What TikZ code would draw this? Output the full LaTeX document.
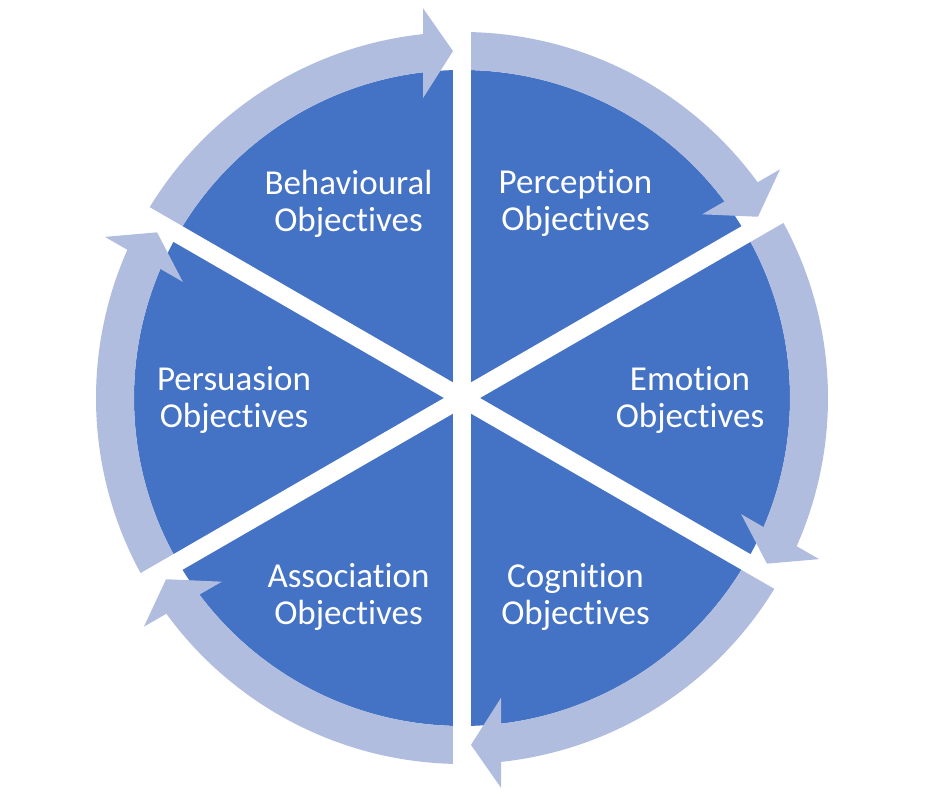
\documentclass[tikz,border=0pt]{standalone}
\usepackage{fontspec}
\setmainfont{Carlito}[Ligatures={NoCommon}]
\definecolor{segblue}{RGB}{68,114,196}
\definecolor{arrowblue}{RGB}{176,189,223}
\tikzset{
  seglabel/.style={text=white, align=center, inner sep=0pt, yshift=-2pt, font=\fontsize{35}{37}\selectfont},
  cyclearrow/.style={fill=arrowblue, draw=none},
  gapline/.style={draw=white, line width=18pt}
}
\begin{document}
\begin{tikzpicture}
\useasboundingbox (-462pt,-404pt) rectangle (463pt,398pt);
% pie
\fill[segblue] (0,0) circle[radius=328pt];
% arrows (one per sector, rotated clockwise)
\foreach \r in {0,-60,-120,-180,-240,-300}{
  \begin{scope}[rotate=\r]
    \fill[cyclearrow] (150:366pt) arc[start angle=150, end angle=95.8, radius=366pt]
      -- (96.6:328pt) arc[start angle=96.6, end angle=150, radius=328pt] -- cycle;
    \fill[cyclearrow] (-39pt,389.8pt) -- (-9pt,346.9pt) -- (-39pt,299.8pt) -- cycle;
  \end{scope}
}
% gaps
\draw[gapline] (90:400pt) -- (270:400pt);
\draw[gapline] (30:400pt) -- (210:400pt);
\draw[gapline] (150:400pt) -- (330:400pt);
% labels
\node[seglabel] (behav) at (120:227pt) {Behavioural\\Objectives};
\node[seglabel] (perc) at (60:227pt) {Perception\\Objectives};
\node[seglabel] (emo) at (0:228pt) {Emotion\\Objectives};
\node[seglabel] (cogn) at (-60:227pt) {Cognition\\Objectives};
\node[seglabel] (assoc) at (-120:227pt) {Association\\Objectives};
\node[seglabel] (pers) at (180:228pt) {Persuasion\\Objectives};
\end{tikzpicture}
\end{document}
